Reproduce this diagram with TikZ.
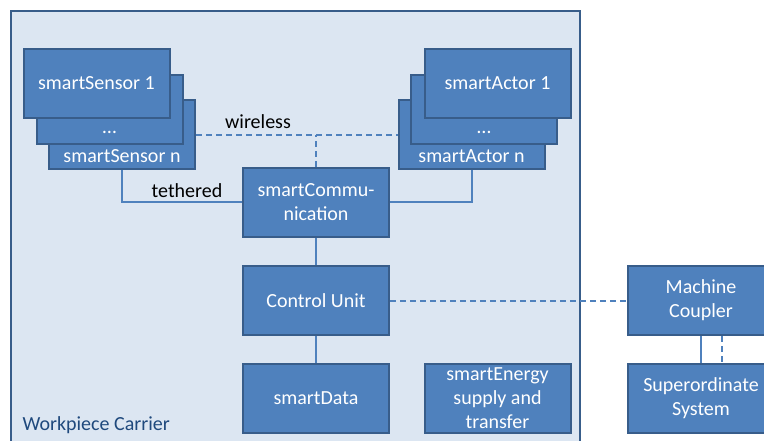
\documentclass[tikz,border=0pt]{standalone}
\usepackage{fontspec}
\setmainfont{Carlito}
\definecolor{boxblue}{HTML}{4F81BD}
\definecolor{boxline}{HTML}{385D8A}
\definecolor{carrierfill}{HTML}{DCE6F2}
\definecolor{carriertext}{HTML}{1F497D}

\begin{document}
\begin{tikzpicture}[x=1pt,y=-1pt,
  every node/.style={font=\fontsize{20}{24}\selectfont},
  block/.style={draw=boxline,fill=boxblue,line width=2pt,text=white,align=center,
    minimum width=146pt,minimum height=69pt,inner sep=0pt},
  blocktext/.style={text=white,inner sep=0pt},
  link/.style={draw=boxblue,line width=2pt},
  radio/.style={link,dash pattern=on 6pt off 4pt}]
\useasboundingbox (0,0) rectangle (764,440);
\draw [boxline,fill=carrierfill,line width=1.5pt] (11,450) -- (11,11) -- (580,11) -- (580,450);
\node [text=carriertext,anchor=west] (carrier) at (19,425) {Workpiece Carrier};
\node [block] (sensorN) at (122,134.5) {};
\node [blocktext] at (122,156) {smartSensor n};
\node [block] (sensorD) at (109.5,109.5) {};
\node [blocktext] at (109.5,132) {\dots};
\node [block] (sensor1) at (96.5,83.5) {smartSensor 1};
\node [block] (actorN) at (471.5,134.5) {};
\node [blocktext] at (471.5,156) {smartActor n};
\node [block] (actorD) at (484,109.5) {};
\node [blocktext] at (484,132) {\dots};
\node [block] (actor1) at (497.5,83.5) {smartActor 1};
\node [block] (comm) at (316,202) {smartCommu-\\nication};
\node [block] (ctrl) at (316,300.5) {Control Unit};
\node [block] (data) at (316,398) {smartData};
\node [block] (energy) at (497.5,398) {smartEnergy\\supply and\\transfer};
\node [block] (coupler) at (701,300.5) {Machine\\Coupler};
\node [block] (super) at (701,398) {Superordinate\\System};
\draw [radio] (sensorN.east) -- (actorN.west);
\draw [radio] (comm.north) -- (comm.north |- sensorN.east);
\node (wireless) at (258,122) {wireless};
\draw [link] (sensorN.south) |- (comm.west);
\node (tethered) at (187,191) {tethered};
\draw [link] (actorN.south) |- (comm.east);
\draw [link] (comm.south) -- (ctrl.north);
\draw [link] (ctrl.south) -- (data.north);
\draw [radio] (ctrl.east) -- (coupler.west);
\draw [link] (coupler.south) -- (super.north);
\draw [radio] ([xshift=21pt]coupler.south) -- ([xshift=21pt]super.north);
\end{tikzpicture}
\end{document}
